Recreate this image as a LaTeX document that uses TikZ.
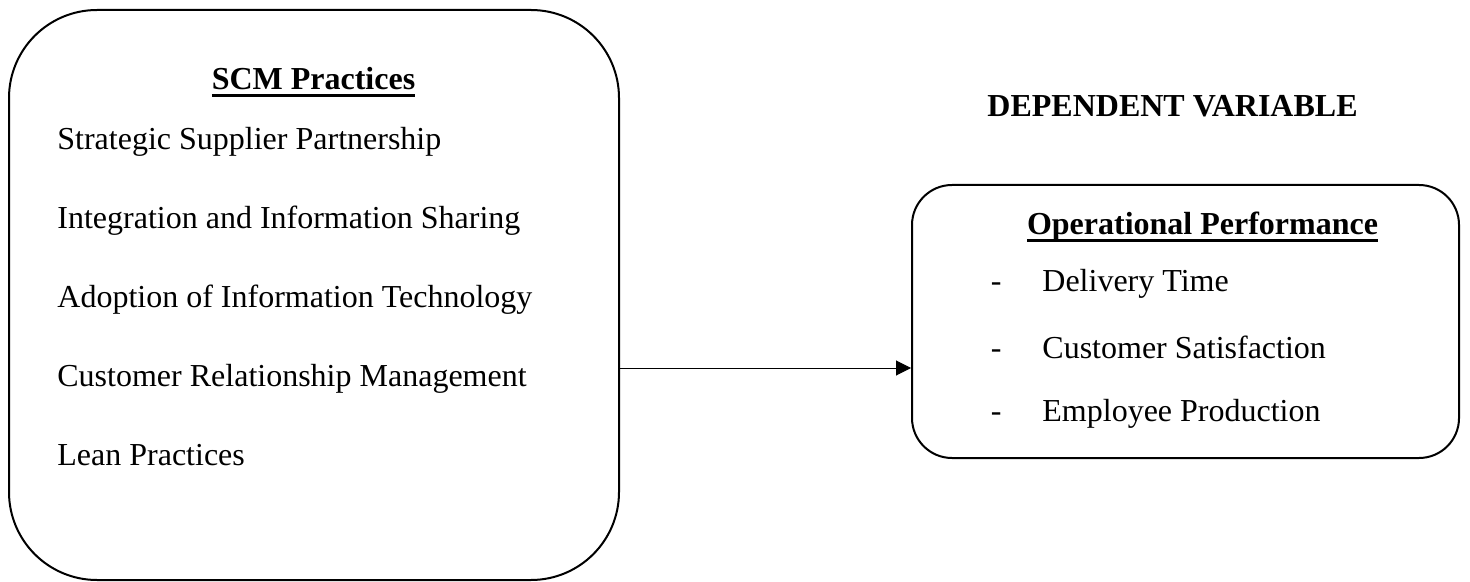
\documentclass[tikz,border=0pt]{standalone}
\usepackage{fontspec}
\setmainfont{Liberation Serif}
\usetikzlibrary{arrows.meta}
% underline drawn as a fixed rule just under the baseline
\newcommand{\headrule}[1]{\setbox0\hbox{#1}\rlap{\rule[-3.3pt]{\wd0}{1.3pt}}\box0}
\tikzset{
  panel/.style={draw, line width=1pt, rectangle, inner sep=0pt},
  item/.style={anchor=base west, inner sep=0pt, font=\fontsize{16}{19}\selectfont},
  head/.style={anchor=base, inner sep=0pt, font=\fontsize{16}{19}\selectfont\bfseries},
  link/.style={line width=0.5pt, -{Triangle[length=7.5pt,width=7.5pt]}}
}
\begin{document}
\begin{tikzpicture}[x=0.5pt, y=-0.5pt]
\useasboundingbox (0,0) rectangle (1470,582);

% left panel: SCM practices
\node[panel, rounded corners=44pt, minimum width=305pt, minimum height=285pt] (scm) at (314,295) {};
\node[head] (scmhead) at (313.5,90) {\headrule{SCM Practices}};
\node[item] (i1) at (57,150) {Strategic Supplier Partnership};
\node[item] (i2) at (57,229) {Integration and Information Sharing};
\node[item] (i3) at (57,307) {Adoption of Information Technology};
\node[item] (i4) at (57,386) {Customer Relationship Management};
\node[item] (i5) at (57,465) {Lean Practices};

% right panel: operational performance
\node[head, anchor=base east] (dv) at (1358,117) {DEPENDENT VARIABLE};
\node[panel, rounded corners=20pt, minimum width=273.5pt, minimum height=136.5pt] (op) at (1185.5,321.5) {};
\node[head] (ophead) at (1202.5,235) {\headrule{Operational Performance}};
\node[item, anchor=base east] (d1) at (1002,292) {-};
\node[item, anchor=base east] (d2) at (1002,358) {-};
\node[item, anchor=base east] (d3) at (1002,421) {-};
\node[item] (o1) at (1042,292) {Delivery Time};
\node[item] (o2) at (1042,358) {Customer Satisfaction};
\node[item] (o3) at (1042,421) {Employee Production};

% connector between the two panels
\coordinate (lvl) at (0,368);
\draw[link] (scm.east |- lvl) -- (op.west |- lvl);
\end{tikzpicture}
\end{document}
